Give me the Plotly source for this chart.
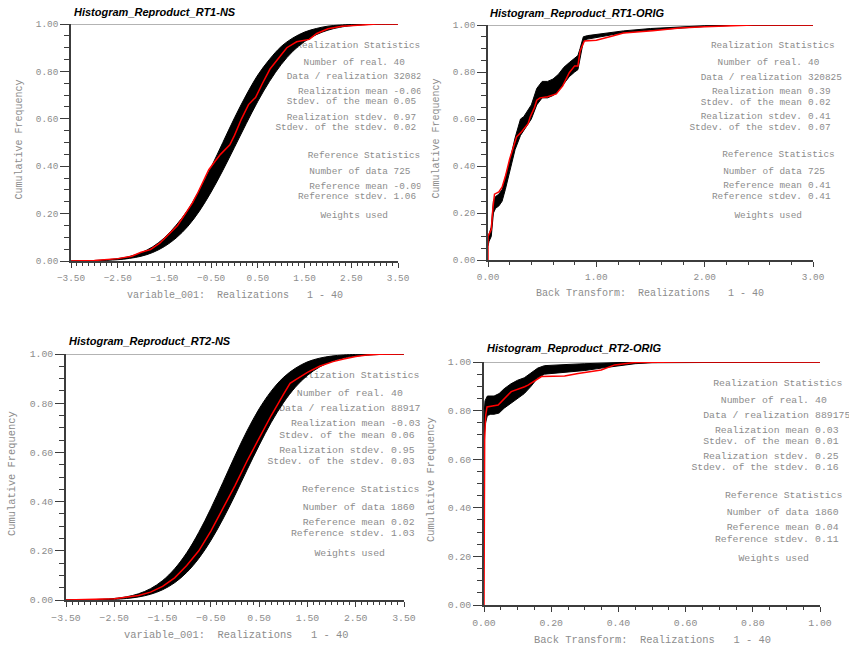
import plotly.graph_objects as go

W, H = 849, 649

# ---------------- data ----------------
ns_x = [-3.5, -3.0, -2.5, -2.25, -2.0, -1.75, -1.5, -1.25, -1.0, -0.75, -0.5, -0.25,
        0.0, 0.25, 0.5, 0.75, 1.0, 1.25, 1.5, 1.75, 2.0, 2.25, 2.5, 3.0, 3.5]

# RT1-NS: envelope of the 40 realizations and the reference curve
rt1ns_upper = [0.0002, 0.002, 0.010, 0.019, 0.035, 0.060, 0.098, 0.151, 0.215, 0.300, 0.396, 0.500,
               0.604, 0.700, 0.785, 0.851, 0.905, 0.941, 0.966, 0.981, 0.991, 0.9955, 0.998, 0.9997, 1.0]
rt1ns_lower = [0.0002, 0.0011, 0.0055, 0.011, 0.020, 0.036, 0.061, 0.097, 0.146, 0.211, 0.291, 0.382,
               0.480, 0.579, 0.674, 0.758, 0.829, 0.885, 0.926, 0.955, 0.974, 0.986, 0.993, 0.999, 0.9998]
rt1ns_ref_x = [-3.5, -3.0, -2.5, -2.2, -2.0, -1.8, -1.6, -1.4, -1.22, -1.05, -0.9, -0.78, -0.65,
               -0.55, -0.42, -0.3, -0.1, 0.0, 0.15, 0.3, 0.4, 0.45, 0.6, 0.76, 0.9, 1.12, 1.33, 1.45, 1.6,
               1.76, 2.0, 2.3, 2.6, 3.05, 3.5]
rt1ns_ref_f = [0.0, 0.002, 0.01, 0.02, 0.037, 0.048, 0.075, 0.115, 0.15, 0.20, 0.245, 0.29, 0.345,
               0.385, 0.42, 0.45, 0.49, 0.53, 0.60, 0.66, 0.68, 0.69, 0.75, 0.81, 0.845, 0.90, 0.925, 0.93,
               0.935, 0.96, 0.98, 0.99, 0.995, 1.0, 1.0]

# RT2-NS
rt2ns_upper = [0.0002, 0.0012, 0.0062, 0.0129, 0.0252, 0.046, 0.0788, 0.127, 0.192, 0.275, 0.372, 0.478,
               0.586, 0.688, 0.777, 0.849, 0.904, 0.942, 0.968, 0.983, 0.9916, 0.9961, 0.9983, 0.9997, 1.0]
rt2ns_lower = [0.0001, 0.0005, 0.0029, 0.0061, 0.0123, 0.0233, 0.0416, 0.0702, 0.112, 0.169, 0.242, 0.329,
               0.426, 0.529, 0.629, 0.722, 0.801, 0.865, 0.913, 0.947, 0.970, 0.9836, 0.9916, 0.9982, 0.9997]
rt2ns_ref_x = [-3.5, -3.0, -2.5, -2.0, -1.75, -1.5, -1.25, -1.0, -0.75, -0.5, -0.25, 0.0, 0.25,
               0.5, 0.75, 1.0, 1.14, 1.25, 1.5, 1.75, 2.03, 2.25, 2.5, 2.73, 3.0, 3.5]
rt2ns_ref_f = [0.0, 0.001, 0.005, 0.018, 0.032, 0.055, 0.09, 0.14, 0.2, 0.28, 0.37, 0.465, 0.565,
               0.66, 0.75, 0.835, 0.881, 0.895, 0.925, 0.95, 0.969, 0.98, 0.99, 0.996, 0.999, 1.0]

# RT1-ORIG
orig1_x = [0.0, 0.01, 0.03, 0.05, 0.07, 0.10, 0.13, 0.16, 0.20, 0.25, 0.30, 0.33, 0.37, 0.40, 0.45,
           0.50, 0.55, 0.60, 0.65, 0.70, 0.75, 0.80, 0.83, 0.85, 0.88, 0.92, 1.00, 1.10, 1.25, 1.50,
           1.75, 2.00, 2.25, 2.50, 3.00]
orig1_upper = [0.10, 0.11, 0.14, 0.25, 0.27, 0.28, 0.30, 0.35, 0.42, 0.52, 0.60, 0.61, 0.64, 0.66, 0.73,
               0.76, 0.76, 0.77, 0.79, 0.82, 0.84, 0.86, 0.87, 0.90, 0.95, 0.955, 0.96, 0.965, 0.975, 0.985,
               0.992, 0.997, 0.999, 1.0, 1.0]
orig1_lower = [0.06, 0.08, 0.10, 0.20, 0.22, 0.23, 0.25, 0.30, 0.37, 0.47, 0.53, 0.55, 0.58, 0.60, 0.66,
               0.69, 0.69, 0.70, 0.72, 0.75, 0.78, 0.80, 0.81, 0.86, 0.93, 0.94, 0.945, 0.955, 0.967, 0.978,
               0.987, 0.994, 0.998, 0.999, 1.0]
orig1_ref_x = [0.0, 0.0, 0.01, 0.03, 0.045, 0.06, 0.10, 0.13, 0.16, 0.20, 0.265, 0.31, 0.37, 0.39, 0.43,
               0.45, 0.48, 0.55, 0.63, 0.69, 0.75, 0.80, 0.83, 0.85, 0.89, 1.00, 1.15, 1.25, 1.52, 1.77,
               2.00, 2.45, 3.00]
orig1_ref_f = [0.0, 0.10, 0.11, 0.13, 0.22, 0.28, 0.29, 0.31, 0.355, 0.43, 0.525, 0.546, 0.58, 0.61, 0.65,
               0.68, 0.69, 0.695, 0.707, 0.741, 0.797, 0.826, 0.826, 0.89, 0.932, 0.935, 0.953, 0.966, 0.976,
               0.987, 0.993, 1.0, 1.0]

# RT2-ORIG
orig2_x = [0.0, 0.003, 0.01, 0.02, 0.03, 0.045, 0.06, 0.08, 0.10, 0.12, 0.14, 0.16, 0.18, 0.20, 0.25,
           0.30, 0.35, 0.40, 0.45, 0.50, 0.60, 1.00]
orig2_upper = [0.78, 0.84, 0.86, 0.86, 0.86, 0.87, 0.89, 0.91, 0.925, 0.935, 0.955, 0.975, 0.985, 0.987,
               0.99, 0.993, 0.996, 0.999, 1.0, 1.0, 1.0, 1.0]
orig2_lower = [0.68, 0.74, 0.78, 0.785, 0.785, 0.79, 0.81, 0.83, 0.85, 0.87, 0.90, 0.935, 0.95, 0.955,
               0.96, 0.965, 0.975, 0.985, 0.993, 0.997, 1.0, 1.0]
orig2_ref_x = [0.0, 0.0, 0.002, 0.005, 0.009, 0.042, 0.057, 0.081, 0.121, 0.131, 0.171, 0.24, 0.28,
               0.349, 0.389, 0.448, 0.6, 1.0]
orig2_ref_f = [0.0, 0.30, 0.68, 0.78, 0.815, 0.823, 0.844, 0.878, 0.898, 0.905, 0.94, 0.942, 0.953,
               0.967, 0.988, 0.998, 1.0, 1.0]

# statistics text
stat_labels = ["Number of real.", "Data / realization", "Realization mean", "Stdev. of the mean",
               "Realization stdev.", "Stdev. of the stdev.", "Number of data", "Reference mean",
               "Reference stdev."]
stat_headings = ["Realization Statistics", "Reference Statistics"]
rt1ns_stats = ["40", "320825", "-0.06", "0.05", "0.97", "0.02", "725", "-0.09", "1.06"]
rt1orig_stats = ["40", "320825", "0.39", "0.02", "0.41", "0.07", "725", "0.41", "0.41"]
rt2ns_stats = ["40", "889175", "-0.03", "0.06", "0.95", "0.03", "1860", "0.02", "1.03"]
rt2orig_stats = ["40", "889175", "0.03", "0.01", "0.25", "0.16", "1860", "0.04", "0.11"]

titles = ["Histogram_Reproduct_RT1-NS", "Histogram_Reproduct_RT1-ORIG",
          "Histogram_Reproduct_RT2-NS", "Histogram_Reproduct_RT2-ORIG"]
x_titles = ["variable_001:  Realizations   1 - 40", "Back Transform:  Realizations   1 - 40",
            "variable_001:  Realizations   1 - 40", "Back Transform:  Realizations   1 - 40"]

# ---------------- layout geometry (pixels) ----------------
GRAY = "#8c8c8c"
AX = "#3c3c3c"
MONO = "Liberation Mono"

panels = [
    dict(px=(71, 398), py=(261, 24), xr=(-3.5, 3.5), dt=1.0, t0=-3.5, minor=0.125,
         band=(ns_x, rt1ns_upper, rt1ns_lower), ref=(rt1ns_ref_x, rt1ns_ref_f), spline=True,
         stats=rt1ns_stats, fs=9.4,
         rows=[45.7, 62.7, 77, 92, 102, 117.3, 127.7, 155.3, 171.3, 186.7, 197, 216],
         Lx=388, Vx=393.5, Hx=420.5,
         title=(72, 12), ytitle=(19.5, 140), xtitle=(235, 295)),
    dict(px=(488, 813), py=(260, 25), xr=(0, 3), dt=1.0, t0=0, minor=0.2,
         band=(orig1_x, orig1_upper, orig1_lower), ref=(orig1_ref_x, orig1_ref_f), spline=False,
         stats=rt1orig_stats, fs=9.4,
         rows=[46, 62.7, 77.3, 91.7, 102.3, 117, 127.7, 154.7, 171.3, 186, 196.7, 215.7],
         Lx=802, Vx=808, Hx=835,
         title=(488, 12.5), ytitle=(436.5, 139), xtitle=(650, 293)),
    dict(px=(66, 404), py=(600, 354), xr=(-3.5, 3.5), dt=1.0, t0=-3.5, minor=0.125,
         band=(ns_x, rt2ns_upper, rt2ns_lower), ref=(rt2ns_ref_x, rt2ns_ref_f), spline=True,
         stats=rt2ns_stats, fs=9.8,
         rows=[376, 393.7, 409, 424, 435.3, 450.3, 461.3, 490, 507.3, 522.7, 534, 554],
         Lx=385, Vx=391, Hx=419.5,
         title=(67, 341), ytitle=(12, 474), xtitle=(236, 635)),
    dict(px=(484, 820), py=(605, 362), xr=(0, 1), dt=0.2, t0=0, minor=0.05,
         band=(orig2_x, orig2_upper, orig2_lower), ref=(orig2_ref_x, orig2_ref_f), spline=False,
         stats=rt2orig_stats, fs=9.8,
         rows=[383.3, 401, 416, 430.7, 441.7, 457, 467.7, 495.7, 513, 528, 539.3, 559],
         Lx=809, Vx=815, Hx=842.5,
         title=(485, 348), ytitle=(431, 480), xtitle=(652, 640)),
]


def paper(px, py):
    return px / W, 1 - py / H


fig = go.Figure()
annotations = []
shapes = []
layout_axes = {}

for i, p in enumerate(panels):
    n = "" if i == 0 else str(i + 1)
    xa, ya = "x" + n, "y" + n
    x0p, x1p = p["px"]
    y0p, y1p = p["py"]
    xr0, xr1 = p["xr"]
    cw = p["fs"] * 0.6  # monospace character width in px

    def to_data(px, py, x0p=x0p, x1p=x1p, y0p=y0p, y1p=y1p, xr0=xr0, xr1=xr1):
        return xr0 + (px - x0p) / (x1p - x0p) * (xr1 - xr0), (y0p - py) / (y0p - y1p)

    # statistics text (drawn underneath the curves)
    rows = p["rows"]
    lab_rows = rows[1:7] + rows[8:11]
    tf = dict(family=MONO, size=p["fs"], color=GRAY)
    common = dict(mode="text", xaxis=xa, yaxis=ya, showlegend=False, hoverinfo="skip",
                  cliponaxis=False, textfont=tf)
    lx = [to_data(p["Lx"], r)[0] for r in lab_rows]
    ly = [to_data(p["Lx"], r)[1] for r in lab_rows]
    fig.add_trace(go.Scatter(x=lx, y=ly, text=stat_labels, textposition="middle left", **common))
    vx = [to_data(p["Vx"], r)[0] for r in lab_rows]
    fig.add_trace(go.Scatter(x=vx, y=ly, text=p["stats"], textposition="middle right", **common))
    hx = [to_data(p["Hx"] - len(t) * cw, 0)[0] for t in stat_headings]
    hy = [to_data(0, r)[1] for r in (rows[0], rows[7])]
    fig.add_trace(go.Scatter(x=hx, y=hy, text=stat_headings, textposition="middle right", **common))
    wx, wy = to_data(p["Lx"], rows[11])
    fig.add_trace(go.Scatter(x=[wx], y=[wy], text=["Weights used"], textposition="middle left", **common))

    # realization band
    bx, bu, bl = p["band"]
    shape = "spline" if p["spline"] else "linear"
    fig.add_trace(go.Scatter(x=list(bx) + list(bx)[::-1], y=list(bu) + list(bl)[::-1],
                             mode="lines", fill="toself", fillcolor="black",
                             line=dict(color="black", width=1, shape=shape),
                             xaxis=xa, yaxis=ya, showlegend=False, hoverinfo="skip"))
    # reference
    rx, rf = p["ref"]
    fig.add_trace(go.Scatter(x=rx, y=rf, mode="lines", line=dict(color="#ff0000", width=1.5),
                             xaxis=xa, yaxis=ya, showlegend=False, hoverinfo="skip"))

    xd = paper(x0p, 0)[0], paper(x1p, 0)[0]
    yd = paper(0, y0p)[1], paper(0, y1p)[1]
    tickfont = dict(family=MONO, size=p["fs"], color=GRAY)
    layout_axes["xaxis" + n] = dict(
        domain=list(xd), anchor=ya, range=[xr0, xr1], tick0=p["t0"], dtick=p["dt"], tickformat=".2f",
        ticks="outside", ticklen=5, tickwidth=1, tickcolor=AX, showline=True, linecolor=AX, linewidth=1.6,
        showgrid=False, zeroline=False, tickfont=tickfont, ticklabelstandoff=2, automargin=False,
        fixedrange=True,
        minor=dict(tick0=p["t0"], dtick=p["minor"], ticks="outside", ticklen=3, tickcolor=AX, tickwidth=1,
                   showgrid=False))
    layout_axes["yaxis" + n] = dict(
        domain=list(yd), anchor=xa, range=[0, 1], tick0=0, dtick=0.2, tickformat=".2f",
        ticks="outside", ticklen=9, tickwidth=1, tickcolor=AX, showline=True, linecolor=AX, linewidth=1.6,
        showgrid=False, zeroline=False, tickfont=tickfont, automargin=False, fixedrange=True,
        minor=dict(tick0=0, dtick=0.05, ticks="outside", ticklen=5, tickcolor=AX, tickwidth=1, showgrid=False))

    # gray line at cumulative frequency 1.0
    shapes.append(dict(type="line", xref=xa + " domain", yref=ya, x0=0, x1=1, y0=1, y1=1,
                       line=dict(color="#9a9a9a", width=1.5), layer="below"))

    # titles
    tx, ty = paper(*p["title"])
    annotations.append(dict(text="<b><i>" + titles[i] + "</i></b>", x=tx, y=ty, xref="paper", yref="paper",
                            xanchor="left", yanchor="middle", showarrow=False,
                            font=dict(family="Liberation Sans", size=11, color="black")))
    ytx, yty = paper(*p["ytitle"])
    annotations.append(dict(text="Cumulative Frequency", x=ytx, y=yty, xref="paper", yref="paper",
                            xanchor="center", yanchor="middle", textangle=-90, showarrow=False,
                            font=dict(family=MONO, size=p["fs"] + 0.6, color=GRAY)))
    xtx, xty = paper(*p["xtitle"])
    annotations.append(dict(text=x_titles[i].replace("  ", "\u00a0\u00a0"), x=xtx, y=xty,
                            xref="paper", yref="paper", xanchor="center", yanchor="middle",
                            showarrow=False, font=dict(family=MONO, size=p["fs"] + 0.6, color=GRAY)))

# the left panels' text is cut off where the right panels begin
for (ya0, ya1) in [(30, 232), (365, 570)]:
    (px0, py0), (px1, py1) = paper(420.5, ya0), paper(444, ya1)
    shapes.append(dict(type="rect", xref="paper", yref="paper", x0=px0, x1=px1, y0=py1, y1=py0,
                       fillcolor="white", line=dict(width=0), layer="above"))

fig.update_layout(width=W, height=H, margin=dict(l=0, r=0, t=0, b=0, autoexpand=False),
                  paper_bgcolor="white", plot_bgcolor="white", hovermode=False,
                  annotations=annotations, shapes=shapes, showlegend=False, **layout_axes)

fig.write_html("out.html", config={"displayModeBar": False},
               post_script="document.body.style.margin='0';document.body.style.padding='0';")
